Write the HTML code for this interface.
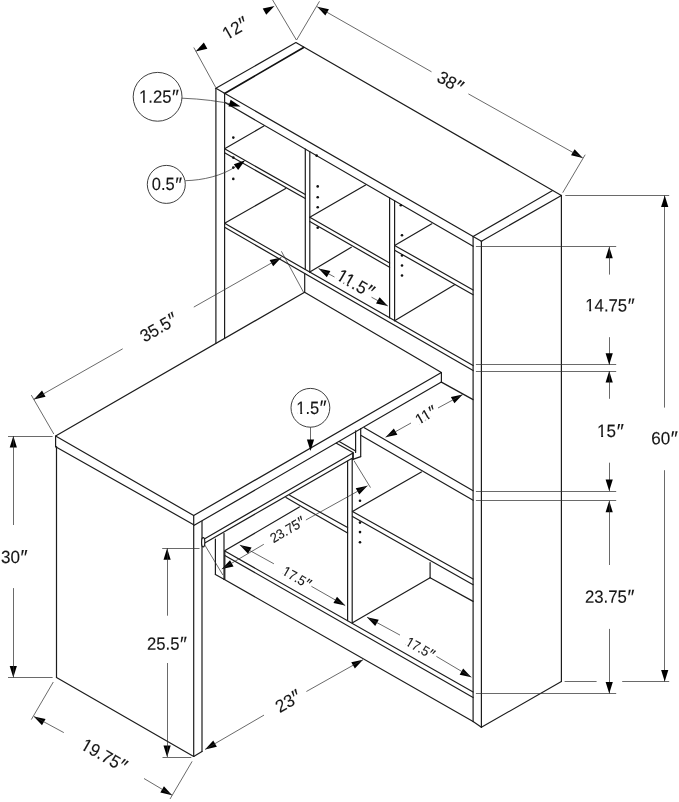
<!DOCTYPE html>
<html lang="en"><head><meta charset="utf-8"><title>Desk dimensions</title>
<style>
html,body{margin:0;padding:0;background:#fff;}
body{width:679px;height:802px;overflow:hidden;}
svg{display:block;will-change:transform;}
.o{stroke:#1c1c1c;stroke-width:1.2;fill:none;stroke-linecap:round;stroke-linejoin:round;}
.o2{stroke:#111;stroke-width:1.7;fill:none;stroke-linecap:round;}
.d{stroke:#303030;stroke-width:0.72;fill:none;}
.c{stroke:#2a2a2a;stroke-width:0.9;fill:none;}
.a{fill:#000;stroke:none;}
.dot{fill:#111;stroke:none;}
.w{fill:#fff;stroke:none;}
.m{font-style:italic;}
text{font-family:"Liberation Sans",sans-serif;fill:#151515;stroke:#151515;stroke-width:0.12;text-anchor:start;}
</style></head>
<body>
<svg width="679" height="802" viewBox="0 0 679 802">
<rect x="0" y="0" width="679" height="802" fill="#ffffff"/>
<g transform="translate(234.50 28.30) rotate(-30)"><text x="-12.70" y="6.47" font-size="17.7" textLength="25.81" lengthAdjust="spacingAndGlyphs">12<tspan class="m" font-size="21.06" dx="-0.40" dy="1.50">″</tspan></text><rect class="w" x="-11.85" y="4.40" width="3.19" height="2.92"/><rect class="w" x="-6.65" y="4.40" width="3.08" height="2.92"/></g>
<g transform="translate(450.00 81.50) rotate(30)"><text x="-12.70" y="6.47" font-size="17.7" textLength="25.81" lengthAdjust="spacingAndGlyphs">38<tspan class="m" font-size="21.06" dx="-0.40" dy="1.50">″</tspan></text></g>
<g transform="translate(663.90 437.80) rotate(0.03)"><text x="-12.70" y="6.47" font-size="17.7" textLength="25.81" lengthAdjust="spacingAndGlyphs">60<tspan class="m" font-size="21.06" dx="-0.40" dy="1.50">″</tspan></text></g>
<g transform="translate(609.40 304.90) rotate(0.03)"><text x="-24.15" y="6.47" font-size="17.7" textLength="48.57" lengthAdjust="spacingAndGlyphs">14.75<tspan class="m" font-size="21.06" dx="-0.40" dy="1.50">″</tspan></text><rect class="w" x="-23.31" y="4.40" width="3.12" height="2.92"/><rect class="w" x="-18.21" y="4.40" width="3.02" height="2.92"/></g>
<g transform="translate(609.80 430.50) rotate(0.03)"><text x="-12.70" y="6.47" font-size="17.7" textLength="25.81" lengthAdjust="spacingAndGlyphs">15<tspan class="m" font-size="21.06" dx="-0.40" dy="1.50">″</tspan></text><rect class="w" x="-11.85" y="4.40" width="3.19" height="2.92"/><rect class="w" x="-6.65" y="4.40" width="3.08" height="2.92"/></g>
<g transform="translate(609.10 596.20) rotate(0.03)"><text x="-24.15" y="6.47" font-size="17.7" textLength="48.57" lengthAdjust="spacingAndGlyphs">23.75<tspan class="m" font-size="21.06" dx="-0.40" dy="1.50">″</tspan></text></g>
<g transform="translate(13.60 556.50) rotate(0.03)"><text x="-12.70" y="6.47" font-size="17.7" textLength="25.81" lengthAdjust="spacingAndGlyphs">30<tspan class="m" font-size="21.06" dx="-0.40" dy="1.50">″</tspan></text></g>
<g transform="translate(166.50 643.20) rotate(0.03)"><text x="-19.40" y="6.47" font-size="17.7" textLength="39.04" lengthAdjust="spacingAndGlyphs">25.5<tspan class="m" font-size="21.06" dx="-0.40" dy="1.50">″</tspan></text></g>
<g transform="translate(103.90 754.70) rotate(30)"><text x="-24.15" y="6.47" font-size="17.7" textLength="48.57" lengthAdjust="spacingAndGlyphs">19.75<tspan class="m" font-size="21.06" dx="-0.40" dy="1.50">″</tspan></text><rect class="w" x="-23.31" y="4.40" width="3.12" height="2.92"/><rect class="w" x="-18.21" y="4.40" width="3.02" height="2.92"/></g>
<g transform="translate(287.40 701.20) rotate(-30)"><text x="-12.70" y="6.47" font-size="17.7" textLength="25.81" lengthAdjust="spacingAndGlyphs">23<tspan class="m" font-size="21.06" dx="-0.40" dy="1.50">″</tspan></text></g>
<g transform="translate(158.00 327.50) rotate(-30)"><text x="-19.40" y="6.47" font-size="17.7" textLength="39.04" lengthAdjust="spacingAndGlyphs">35.5<tspan class="m" font-size="21.06" dx="-0.40" dy="1.50">″</tspan></text></g>
<g transform="translate(355.20 282.90) rotate(30)"><text x="-19.40" y="6.47" font-size="17.7" textLength="39.04" lengthAdjust="spacingAndGlyphs">11.5<tspan class="m" font-size="21.06" dx="-0.40" dy="1.50">″</tspan></text><rect class="w" x="-18.57" y="4.40" width="3.10" height="2.92"/><rect class="w" x="-13.49" y="4.40" width="3.00" height="2.92"/><rect class="w" x="-9.31" y="4.40" width="3.10" height="2.92"/><rect class="w" x="-4.24" y="4.40" width="3.00" height="2.92"/></g>
<g transform="translate(425.20 415.10) rotate(-30)"><text x="-10.40" y="5.30" font-size="14.5" textLength="21.14" lengthAdjust="spacingAndGlyphs">11<tspan class="m" font-size="17.25" dx="-0.33" dy="1.23">″</tspan></text><rect class="w" x="-9.70" y="3.47" width="2.57" height="2.68"/><rect class="w" x="-5.40" y="3.47" width="2.48" height="2.68"/><rect class="w" x="-1.92" y="3.47" width="2.57" height="2.68"/><rect class="w" x="2.38" y="3.47" width="2.48" height="2.68"/></g>
<g transform="translate(287.00 529.70) rotate(-30)"><text x="-18.56" y="4.97" font-size="13.6" textLength="37.32" lengthAdjust="spacingAndGlyphs">23.75<tspan class="m" font-size="16.18" dx="-0.31" dy="1.15">″</tspan></text></g>
<g transform="translate(296.60 577.00) rotate(30)"><text x="-14.91" y="4.97" font-size="13.6" textLength="29.99" lengthAdjust="spacingAndGlyphs">17.5<tspan class="m" font-size="16.18" dx="-0.31" dy="1.15">″</tspan></text><rect class="w" x="-14.27" y="3.20" width="2.33" height="2.62"/><rect class="w" x="-10.31" y="3.20" width="2.25" height="2.62"/></g>
<g transform="translate(420.10 647.60) rotate(30)"><text x="-14.91" y="4.97" font-size="13.6" textLength="29.99" lengthAdjust="spacingAndGlyphs">17.5<tspan class="m" font-size="16.18" dx="-0.31" dy="1.15">″</tspan></text><rect class="w" x="-14.27" y="3.20" width="2.33" height="2.62"/><rect class="w" x="-10.31" y="3.20" width="2.25" height="2.62"/></g>
<g transform="translate(158.50 96.30) rotate(0.03)"><text x="-19.40" y="6.47" font-size="17.7" textLength="39.04" lengthAdjust="spacingAndGlyphs">1.25<tspan class="m" font-size="21.06" dx="-0.40" dy="1.50">″</tspan></text><rect class="w" x="-18.57" y="4.40" width="3.10" height="2.92"/><rect class="w" x="-13.49" y="4.40" width="3.00" height="2.92"/></g>
<g transform="translate(166.50 183.80) rotate(0.03)"><text x="-14.65" y="6.47" font-size="17.7" textLength="29.47" lengthAdjust="spacingAndGlyphs">0.5<tspan class="m" font-size="21.06" dx="-0.40" dy="1.50">″</tspan></text></g>
<g transform="translate(311.00 407.10) rotate(0.03)"><text x="-14.65" y="6.47" font-size="17.7" textLength="29.47" lengthAdjust="spacingAndGlyphs">1.5<tspan class="m" font-size="21.06" dx="-0.40" dy="1.50">″</tspan></text><rect class="w" x="-13.83" y="4.40" width="3.07" height="2.92"/><rect class="w" x="-8.80" y="4.40" width="2.97" height="2.92"/></g>
<polyline class="o" points="215.90,88.30 295.90,42.50 561.40,195.40 481.40,241.30 215.90,88.30"/>
<line class="o2" x1="224.60" y1="93.50" x2="303.60" y2="47.50"/>
<line class="o" x1="473.10" y1="236.50" x2="552.60" y2="190.60"/>
<line class="o" x1="215.90" y1="88.30" x2="215.90" y2="343.40"/>
<line class="o" x1="224.60" y1="93.50" x2="224.60" y2="338.40"/>
<line class="o" x1="224.60" y1="102.30" x2="473.10" y2="246.30"/>
<line class="o" x1="473.10" y1="236.50" x2="473.10" y2="721.60"/>
<line class="o" x1="481.40" y1="241.30" x2="481.40" y2="727.30"/>
<line class="o" x1="473.10" y1="721.60" x2="481.40" y2="727.30"/>
<line class="o" x1="481.40" y1="727.30" x2="561.40" y2="681.50"/>
<line class="o" x1="561.40" y1="195.40" x2="561.40" y2="681.50"/>
<line class="o" x1="224.60" y1="223.30" x2="473.10" y2="365.60"/>
<line class="o" x1="224.60" y1="227.30" x2="473.10" y2="370.60"/>
<line class="o" x1="305.30" y1="149.06" x2="305.30" y2="269.51"/>
<line class="o" x1="309.80" y1="151.67" x2="309.80" y2="272.09"/>
<line class="o" x1="389.60" y1="197.91" x2="389.60" y2="317.78"/>
<line class="o" x1="394.60" y1="200.81" x2="394.60" y2="320.65"/>
<line class="o" x1="224.60" y1="148.80" x2="263.90" y2="126.00"/>
<line class="o" x1="224.60" y1="148.80" x2="305.30" y2="194.50"/>
<line class="o" x1="224.60" y1="152.80" x2="305.30" y2="198.50"/>
<line class="o" x1="224.60" y1="223.30" x2="285.70" y2="188.50"/>
<line class="o" x1="309.80" y1="217.30" x2="365.60" y2="185.00"/>
<line class="o" x1="309.80" y1="217.30" x2="389.60" y2="263.00"/>
<line class="o" x1="309.80" y1="221.50" x2="389.60" y2="267.20"/>
<line class="o" x1="309.80" y1="272.09" x2="351.30" y2="247.20"/>
<line class="o" x1="394.60" y1="245.40" x2="431.80" y2="223.80"/>
<line class="o" x1="394.60" y1="245.40" x2="473.10" y2="290.00"/>
<line class="o" x1="394.60" y1="250.20" x2="473.10" y2="294.80"/>
<line class="o" x1="394.60" y1="320.65" x2="455.00" y2="284.60"/>
<circle class="dot" cx="233.3" cy="137.6" r="1.3"/>
<circle class="dot" cx="233.3" cy="157.6" r="1.3"/>
<circle class="dot" cx="233.3" cy="167.6" r="1.3"/>
<circle class="dot" cx="233.3" cy="178.9" r="1.3"/>
<circle class="dot" cx="317.7" cy="186.4" r="1.3"/>
<circle class="dot" cx="317.7" cy="197.2" r="1.3"/>
<circle class="dot" cx="317.7" cy="207.2" r="1.3"/>
<circle class="dot" cx="317.7" cy="227.7" r="1.3"/>
<circle class="dot" cx="402" cy="235.3" r="1.3"/>
<circle class="dot" cx="402" cy="255.5" r="1.3"/>
<circle class="dot" cx="402" cy="265.5" r="1.3"/>
<circle class="dot" cx="402" cy="275.5" r="1.3"/>
<circle class="dot" cx="316.6" cy="155.6" r="1.3"/>
<circle class="dot" cx="400.8" cy="205.3" r="1.3"/>
<circle class="dot" cx="360" cy="500.8" r="1.3"/>
<circle class="dot" cx="360" cy="522.6" r="1.3"/>
<circle class="dot" cx="360" cy="532.1" r="1.3"/>
<circle class="dot" cx="360" cy="542.2" r="1.3"/>
<polyline class="o" points="55.60,436.10 193.70,515.50 441.40,372.60 304.60,292.20 55.60,436.10"/>
<line class="o" x1="55.60" y1="436.10" x2="55.60" y2="446.70"/>
<line class="o" x1="193.70" y1="515.50" x2="193.70" y2="756.40"/>
<line class="o" x1="441.40" y1="372.60" x2="441.40" y2="382.10"/>
<line class="o" x1="55.60" y1="446.70" x2="193.70" y2="524.70"/>
<line class="o" x1="194.20" y1="525.30" x2="441.40" y2="382.10"/>
<line class="o" x1="56.50" y1="446.50" x2="56.50" y2="677.50"/>
<line class="o" x1="56.50" y1="677.50" x2="193.70" y2="756.40"/>
<line class="o" x1="202.00" y1="521.40" x2="202.00" y2="751.40"/>
<line class="o" x1="193.70" y1="756.40" x2="202.00" y2="751.40"/>
<line class="o" x1="304.70" y1="273.50" x2="304.70" y2="292.20"/>
<line class="o" x1="441.40" y1="382.10" x2="473.10" y2="399.60"/>
<line class="o" x1="204.30" y1="538.90" x2="353.00" y2="453.00"/>
<line class="o" x1="204.30" y1="543.20" x2="352.20" y2="458.20"/>
<line class="o2" x1="353.00" y1="453.00" x2="353.00" y2="459.00"/>
<line class="o" x1="336.40" y1="443.20" x2="353.00" y2="452.60"/>
<line class="o" x1="339.20" y1="441.60" x2="355.60" y2="451.00"/>
<ellipse class="o" cx="203.2" cy="542.3" rx="1.6" ry="4.6" style="fill:#fff"/>
<line class="o" x1="215.40" y1="539.00" x2="215.40" y2="574.50"/>
<line class="o" x1="224.00" y1="533.60" x2="224.00" y2="579.20"/>
<line class="o" x1="215.40" y1="574.50" x2="224.00" y2="579.20"/>
<line class="o" x1="224.80" y1="550.80" x2="224.80" y2="579.30"/>
<line class="o" x1="224.80" y1="551.00" x2="473.10" y2="692.00"/>
<line class="o" x1="224.80" y1="555.40" x2="473.10" y2="697.50"/>
<line class="o" x1="224.00" y1="579.20" x2="473.10" y2="721.40"/>
<line class="o" x1="225.00" y1="550.60" x2="299.40" y2="507.00"/>
<line class="o" x1="347.60" y1="461.00" x2="347.60" y2="620.60"/>
<line class="o" x1="352.20" y1="459.50" x2="352.20" y2="623.00"/>
<line class="o" x1="289.70" y1="495.30" x2="347.60" y2="527.50"/>
<line class="o" x1="286.00" y1="497.60" x2="347.60" y2="533.00"/>
<line class="o" x1="352.50" y1="511.40" x2="421.40" y2="472.00"/>
<line class="o" x1="352.50" y1="511.40" x2="473.10" y2="579.00"/>
<line class="o" x1="352.50" y1="516.40" x2="473.10" y2="584.70"/>
<line class="o" x1="364.30" y1="427.70" x2="473.10" y2="490.70"/>
<line class="o" x1="361.20" y1="435.50" x2="473.10" y2="500.30"/>
<line class="o" x1="352.50" y1="622.80" x2="430.10" y2="577.70"/>
<line class="o" x1="430.10" y1="562.70" x2="430.10" y2="577.70"/>
<line class="o" x1="430.10" y1="577.70" x2="473.10" y2="601.40"/>
<line class="o" x1="355.60" y1="430.80" x2="355.60" y2="452.50"/>
<line class="o" x1="360.70" y1="428.50" x2="360.70" y2="456.60"/>
<line class="o" x1="352.20" y1="459.60" x2="360.70" y2="456.60"/>
<line class="d" x1="215.80" y1="87.60" x2="193.80" y2="47.50"/>
<line class="d" x1="296.40" y1="40.00" x2="272.60" y2="0.00"/>
<polygon class="a" points="195.60,51.40 203.84,42.60 207.38,48.87"/>
<polygon class="a" points="274.50,6.00 266.26,14.80 262.72,8.53"/>
<line class="d" x1="296.60" y1="40.00" x2="319.50" y2="1.30"/>
<line class="d" x1="562.70" y1="192.70" x2="585.20" y2="154.70"/>
<polygon class="a" points="317.20,6.70 328.96,9.33 325.36,15.57"/>
<polygon class="a" points="582.80,158.00 571.04,155.37 574.64,149.13"/>
<line class="d" x1="317.20" y1="6.70" x2="431.50" y2="71.80"/>
<line class="d" x1="468.40" y1="93.90" x2="582.80" y2="158.00"/>
<line class="d" x1="565.30" y1="195.50" x2="669.20" y2="195.50"/>
<line class="d" x1="564.60" y1="681.50" x2="596.60" y2="681.50"/>
<line class="d" x1="622.20" y1="681.50" x2="669.20" y2="681.50"/>
<line class="d" x1="664.50" y1="195.50" x2="664.50" y2="407.60"/>
<line class="d" x1="664.50" y1="470.20" x2="664.50" y2="681.50"/>
<polygon class="a" points="664.70,195.50 668.30,207.00 661.10,207.00"/>
<polygon class="a" points="664.70,681.50 661.10,670.00 668.30,670.00"/>
<line class="d" x1="475.90" y1="246.50" x2="616.20" y2="246.50"/>
<line class="d" x1="475.90" y1="364.50" x2="616.20" y2="364.50"/>
<line class="d" x1="475.90" y1="371.50" x2="616.20" y2="371.50"/>
<line class="d" x1="475.90" y1="491.50" x2="616.20" y2="491.50"/>
<line class="d" x1="475.90" y1="500.50" x2="616.20" y2="500.50"/>
<line class="d" x1="475.90" y1="693.50" x2="616.20" y2="693.50"/>
<polygon class="a" points="609.20,246.80 612.80,258.30 605.60,258.30"/>
<line class="d" x1="609.50" y1="246.80" x2="609.50" y2="274.60"/>
<line class="d" x1="609.50" y1="337.20" x2="609.50" y2="364.70"/>
<polygon class="a" points="609.20,364.70 605.60,353.20 612.80,353.20"/>
<polygon class="a" points="609.20,371.00 612.80,382.50 605.60,382.50"/>
<line class="d" x1="609.50" y1="371.00" x2="609.50" y2="398.80"/>
<line class="d" x1="609.50" y1="462.70" x2="609.50" y2="491.10"/>
<polygon class="a" points="609.20,491.10 605.60,479.60 612.80,479.60"/>
<polygon class="a" points="609.20,500.80 612.80,512.30 605.60,512.30"/>
<line class="d" x1="609.50" y1="500.80" x2="609.50" y2="565.00"/>
<line class="d" x1="609.50" y1="628.90" x2="609.50" y2="693.50"/>
<polygon class="a" points="609.20,693.50 605.60,682.00 612.80,682.00"/>
<line class="d" x1="8.00" y1="436.50" x2="52.60" y2="436.50"/>
<line class="d" x1="8.00" y1="677.50" x2="52.60" y2="677.50"/>
<polygon class="a" points="13.30,436.00 16.90,447.50 9.70,447.50"/>
<polygon class="a" points="13.30,677.40 9.70,665.90 16.90,665.90"/>
<line class="d" x1="13.50" y1="436.00" x2="13.50" y2="525.00"/>
<line class="d" x1="13.50" y1="588.10" x2="13.50" y2="677.40"/>
<line class="d" x1="162.20" y1="548.50" x2="199.50" y2="548.50"/>
<line class="d" x1="162.50" y1="757.50" x2="191.30" y2="757.50"/>
<polygon class="a" points="167.10,548.30 170.70,559.80 163.50,559.80"/>
<polygon class="a" points="167.10,757.00 163.50,745.50 170.70,745.50"/>
<line class="d" x1="167.50" y1="548.30" x2="167.50" y2="615.70"/>
<line class="d" x1="167.50" y1="663.00" x2="167.50" y2="757.00"/>
<line class="d" x1="53.30" y1="682.00" x2="31.30" y2="719.60"/>
<line class="d" x1="192.10" y1="761.40" x2="170.00" y2="799.00"/>
<polygon class="a" points="33.80,716.40 45.56,719.01 41.97,725.25"/>
<polygon class="a" points="172.10,795.20 160.34,792.59 163.93,786.35"/>
<line class="d" x1="33.80" y1="716.40" x2="63.80" y2="732.60"/>
<line class="d" x1="144.00" y1="778.50" x2="172.10" y2="795.20"/>
<polygon class="a" points="205.10,749.40 213.24,740.52 216.85,746.74"/>
<polygon class="a" points="363.00,659.70 354.86,668.58 351.25,662.36"/>
<line class="d" x1="205.10" y1="749.40" x2="264.00" y2="715.10"/>
<line class="d" x1="306.40" y1="691.50" x2="363.00" y2="659.70"/>
<line class="d" x1="53.80" y1="434.00" x2="31.30" y2="395.10"/>
<line class="d" x1="281.40" y1="251.30" x2="304.00" y2="293.10"/>
<polygon class="a" points="33.80,399.40 42.01,390.58 45.57,396.83"/>
<polygon class="a" points="281.40,257.40 273.19,266.22 269.63,259.97"/>
<line class="d" x1="33.80" y1="399.40" x2="122.70" y2="348.80"/>
<line class="d" x1="193.80" y1="307.10" x2="281.40" y2="257.40"/>
<polygon class="a" points="318.60,268.50 330.37,271.07 326.81,277.32"/>
<polygon class="a" points="387.80,306.00 376.03,303.43 379.59,297.18"/>
<line class="d" x1="318.60" y1="268.50" x2="334.50" y2="277.00"/>
<line class="d" x1="371.50" y1="297.20" x2="387.80" y2="306.00"/>
<polygon class="a" points="385.60,437.20 393.87,428.44 397.39,434.72"/>
<polygon class="a" points="462.70,394.60 454.43,403.36 450.91,397.08"/>
<line class="d" x1="385.60" y1="437.20" x2="411.00" y2="423.00"/>
<line class="d" x1="438.00" y1="408.00" x2="462.70" y2="394.60"/>
<polygon class="a" points="221.80,569.00 230.01,560.18 233.57,566.43"/>
<polygon class="a" points="367.50,485.80 359.29,494.62 355.73,488.37"/>
<line class="d" x1="221.80" y1="569.00" x2="263.80" y2="544.30"/>
<line class="d" x1="305.90" y1="520.00" x2="367.50" y2="485.80"/>
<line class="d" x1="204.30" y1="544.20" x2="222.90" y2="575.00"/>
<line class="d" x1="354.00" y1="460.70" x2="370.50" y2="487.60"/>
<polygon class="a" points="239.80,545.00 251.57,547.57 248.01,553.82"/>
<polygon class="a" points="345.20,605.60 333.43,603.03 336.99,596.78"/>
<line class="d" x1="239.80" y1="545.00" x2="273.90" y2="563.80"/>
<line class="d" x1="311.40" y1="586.30" x2="345.20" y2="605.60"/>
<polygon class="a" points="367.00,617.20 378.77,619.77 375.21,626.02"/>
<polygon class="a" points="471.40,677.20 459.63,674.63 463.19,668.38"/>
<line class="d" x1="367.00" y1="617.20" x2="400.00" y2="635.10"/>
<line class="d" x1="436.40" y1="656.40" x2="471.40" y2="677.20"/>
<circle class="c" cx="157.60" cy="96.80" r="24.40"/>
<circle class="c" cx="166.30" cy="184.40" r="19.00"/>
<circle class="c" cx="310.40" cy="407.80" r="19.40"/>
<path class="d" d="M182,98.2 Q212,99.3 236,105.0"/>
<polygon class="a" points="240.60,106.40 228.55,106.54 230.62,99.65"/>
<path class="d" d="M185.3,180.7 C203,180.2 222,176 237,165.8"/>
<polygon class="a" points="245.20,160.20 238.16,169.98 233.84,164.22"/>
<line class="d" x1="310.50" y1="427.20" x2="310.50" y2="445.00"/>
<polygon class="a" points="310.50,451.00 306.90,439.50 314.10,439.50"/>
</svg>
</body></html>
